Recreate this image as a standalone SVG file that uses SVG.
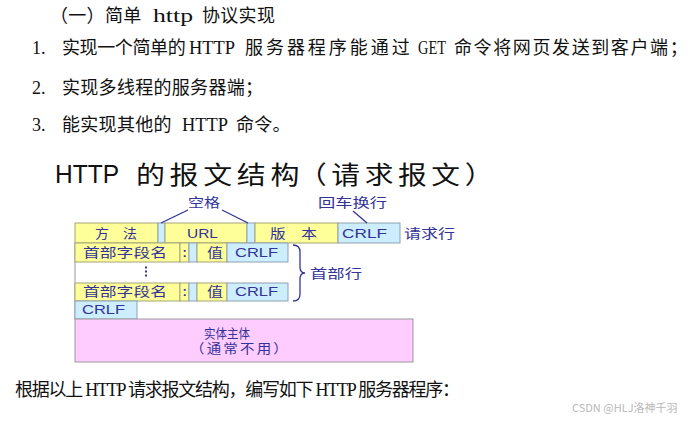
<svg xmlns="http://www.w3.org/2000/svg" width="697" height="422" viewBox="0 0 697 422">
<defs>
<style>
.body{font-family:'Liberation Serif','Noto Sans CJK SC',serif;font-size:18px;fill:#111}
.cjk{font-family:'Noto Sans CJK SC',sans-serif;letter-spacing:0.3px}
.lat{font-family:'Liberation Serif',serif}
.y{fill:#ffff99;stroke:#a3a37a;stroke-width:1}
.b{fill:#cceeff;stroke:#8fa0b0;stroke-width:1}
.p{fill:#ffccff;stroke:#999999;stroke-width:1}
.lbl{font-family:'Liberation Sans','Noto Sans CJK SC',sans-serif;font-size:13px;fill:#333399}
.ann{font-family:'Noto Sans CJK SC',sans-serif;font-size:13px;fill:#333399}
.con{fill:none;stroke:#333399;stroke-width:1.3}
</style>
</defs>
<rect width="697" height="422" fill="#ffffff"/>

<g id="heading">
<text class="body" y="22"><tspan class="cjk" x="50">（一）简单</tspan><tspan class="lat" x="153" textLength="40" lengthAdjust="spacingAndGlyphs">http</tspan><tspan class="cjk" x="202">协议实现</tspan></text>
<text class="body" y="54"><tspan class="lat" x="32">1.</tspan><tspan class="cjk" x="62" textLength="124">实现一个简单的</tspan><tspan class="lat" x="189" textLength="46" lengthAdjust="spacingAndGlyphs">HTTP</tspan><tspan class="cjk" x="245" textLength="165">服务器程序能通过</tspan><tspan class="lat" x="418" textLength="28" lengthAdjust="spacingAndGlyphs">GET</tspan><tspan class="cjk" x="454" textLength="234">命令将网页发送到客户端；</tspan></text>
<text class="body" y="94"><tspan class="lat" x="32">2.</tspan><tspan class="cjk" x="62">实现多线程的服务器端；</tspan></text>
<text class="body" y="131"><tspan class="lat" x="32">3.</tspan><tspan class="cjk" x="62">能实现其他的</tspan><tspan class="lat" x="182" textLength="46" lengthAdjust="spacingAndGlyphs">HTTP</tspan><tspan class="cjk" x="236">命令。</tspan></text>
</g>

<g id="title">
<text x="55" y="183" font-family="'Liberation Sans',sans-serif" font-size="25" fill="#111" textLength="64" lengthAdjust="spacingAndGlyphs">HTTP</text>
<text x="136" y="184" font-family="'Noto Sans CJK SC',sans-serif" font-size="25" letter-spacing="4" fill="#111" textLength="168" lengthAdjust="spacingAndGlyphs">的报文结构</text>
<text x="298" y="184" font-family="'Noto Sans CJK SC',sans-serif" font-size="25" letter-spacing="4" fill="#111" textLength="200" lengthAdjust="spacingAndGlyphs">（请求报文）</text>
</g>

<g id="method"><rect class="y" x="75" y="223" width="83" height="20"/><text class="lbl" x="95" y="238" textLength="42" lengthAdjust="spacingAndGlyphs">方　法</text></g>
<g id="sp1"><rect class="b" x="158" y="223" width="7" height="20"/></g>
<g id="url"><rect class="y" x="165" y="223" width="82" height="20"/><text class="lbl" x="187" y="238" textLength="31" lengthAdjust="spacingAndGlyphs">URL</text></g>
<g id="sp2"><rect class="b" x="247" y="223" width="8" height="20"/></g>
<g id="version"><rect class="y" x="255" y="223" width="83" height="20"/><text class="lbl" x="270" y="238" textLength="47" lengthAdjust="spacingAndGlyphs">版　本</text></g>
<g id="crlf1"><rect class="b" x="338" y="223" width="62" height="20"/><text class="lbl" x="342" y="238" textLength="45" lengthAdjust="spacingAndGlyphs">CRLF</text></g>
<g id="reqline-label"><text class="ann" x="404" y="238" textLength="51" lengthAdjust="spacingAndGlyphs">请求行</text></g>

<g id="header-frame"><line x1="75" y1="243" x2="75" y2="319" stroke="#999999" stroke-width="1"/></g>

<g id="hname1"><rect class="y" x="75" y="243" width="105" height="19"/><text class="lbl" x="83" y="257" textLength="84" lengthAdjust="spacingAndGlyphs">首部字段名</text></g>
<g id="colon1"><rect class="y" x="180" y="243" width="9" height="19"/><text class="lbl" x="182.5" y="257" font-weight="bold">:</text></g>
<g id="hsp1"><rect class="b" x="189" y="243" width="8" height="19"/></g>
<g id="val1"><rect class="y" x="197" y="243" width="30" height="19"/><text class="lbl" x="207" y="257" textLength="16" lengthAdjust="spacingAndGlyphs">值</text></g>
<g id="hcrlf1"><rect class="b" x="227" y="243" width="61" height="19"/><text class="lbl" x="235" y="256.5" textLength="43" lengthAdjust="spacingAndGlyphs">CRLF</text></g>

<g id="dots" fill="#333399"><rect x="145" y="266.5" width="2" height="2"/><rect x="145" y="270.5" width="2" height="2"/><rect x="145" y="274.5" width="2" height="2"/></g>

<g id="hname2"><rect class="y" x="75" y="283" width="105" height="18"/><text class="lbl" x="83" y="296" textLength="84" lengthAdjust="spacingAndGlyphs">首部字段名</text></g>
<g id="colon2"><rect class="y" x="180" y="283" width="9" height="18"/><text class="lbl" x="182.5" y="296" font-weight="bold">:</text></g>
<g id="hsp2"><rect class="b" x="189" y="283" width="8" height="18"/></g>
<g id="val2"><rect class="y" x="197" y="283" width="30" height="18"/><text class="lbl" x="207" y="296" textLength="16" lengthAdjust="spacingAndGlyphs">值</text></g>
<g id="hcrlf2"><rect class="b" x="227" y="283" width="61" height="18"/><text class="lbl" x="235" y="295.5" textLength="43" lengthAdjust="spacingAndGlyphs">CRLF</text></g>

<g id="crlf-end"><rect class="b" x="75" y="301" width="62" height="18"/><text class="lbl" x="82" y="313.5" textLength="43" lengthAdjust="spacingAndGlyphs">CRLF</text></g>

<g id="body"><rect class="p" x="75" y="319" width="338" height="43"/><text class="lbl" x="204" y="338" font-size="12" textLength="46" lengthAdjust="spacingAndGlyphs">实体主体</text><text class="lbl" x="190" y="353" font-size="12" letter-spacing="2" textLength="100" lengthAdjust="spacingAndGlyphs">（通常不用）</text></g>

<g id="header-label"><text class="ann" x="310" y="278" textLength="52" lengthAdjust="spacingAndGlyphs">首部行</text></g>
<g id="space-label"><text class="ann" x="188" y="207" textLength="32" lengthAdjust="spacingAndGlyphs">空格</text></g>
<g id="crlf-label"><text class="ann" x="318" y="207" textLength="69" lengthAdjust="spacingAndGlyphs">回车换行</text></g>

<g id="connectors">
<path class="con" d="M188,210 L161,223"/>
<path class="con" d="M222,210 L248,223"/>
<path class="con" d="M353,211 L367,223"/>
<path class="con" d="M293,245 Q300,245 300,252 L300,267 Q300,273 305,273 Q300,273 300,279 L300,294 Q300,301 293,301"/>
</g>

<g id="footer">
<text class="body" y="396" font-size="16" textLength="445"><tspan x="15">根据以上 HTTP 请求报文结构，编写如下 HTTP 服务器程序：</tspan></text>
<text x="572" y="412" font-family="'Noto Sans CJK SC',sans-serif" font-size="11" fill="#b8b8b8">CSDN @HLJ洛神千羽</text>
</g>
</svg>
